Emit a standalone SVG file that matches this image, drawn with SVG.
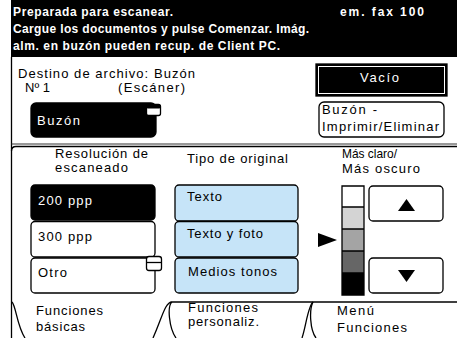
<svg xmlns="http://www.w3.org/2000/svg" width="457" height="338" viewBox="0 0 457 338">
<style>
text{font-family:"Liberation Sans",Arial,sans-serif;font-size:13px;fill:#000}
.h{font-weight:bold;font-size:12px;fill:#fff}
.w{fill:#fff}
.btn{fill:#fff;stroke:#000;stroke-width:1.3}
.blk{fill:#000;stroke:#000;stroke-width:1.3}
.blue{fill:#c6e4f8;stroke:#000;stroke-width:1.3}
.ln{fill:none;stroke:#000;stroke-width:1.3}
</style>
<rect x="0" y="0" width="457" height="338" fill="#fff"/>
<g id="header">
<rect x="11" y="0" width="446" height="57" fill="#000"/>
<text class="h" x="13" y="16" textLength="160" lengthAdjust="spacing">Preparada para escanear.</text>
<text class="h" x="340" y="16" textLength="84" lengthAdjust="spacing">em. fax 100</text>
<text class="h" x="13" y="33" textLength="296" lengthAdjust="spacing">Cargue los documentos y pulse Comenzar. Imág.</text>
<text class="h" x="13" y="50" textLength="267" lengthAdjust="spacing">alm. en buzón pueden recup. de Client PC.</text>
</g>
<g id="frame">
<path class="ln" d="M11.5,57 V338"/>
<path d="M11.5,144 H457" stroke="#333" stroke-width="1" fill="none"/>
<path class="ln" d="M11.5,151 Q11.5,146.5 16,146.5 H457"/>
</g>
<g id="destino">
<text x="18" y="78" textLength="177" lengthAdjust="spacing">Destino de archivo: Buzón</text>
<text x="25" y="92" textLength="25" lengthAdjust="spacing">Nº 1</text>
<text x="118" y="92" textLength="67" lengthAdjust="spacing">(Escáner)</text>
</g>
<g id="buzon-btn">
<rect class="blk" x="31" y="103" width="125" height="34" rx="5"/>
<text class="w" x="37" y="125" textLength="43" lengthAdjust="spacing">Buzón</text>
<rect x="146.5" y="104.5" width="14" height="11" rx="2" fill="#fff" stroke="#000" stroke-width="1.3"/>
<rect x="146.5" y="104.5" width="14" height="4" rx="1.5" fill="#000"/>
</g>
<g id="vacio-btn">
<rect x="316" y="64" width="131" height="32" fill="#000" stroke="#000" stroke-width="1.3"/>
<rect x="318.5" y="66.5" width="126" height="27" fill="none" stroke="#fff" stroke-width="1"/>
<text class="w" x="360" y="82" textLength="39" lengthAdjust="spacing">Vacío</text>
</g>
<g id="imprimir-btn">
<rect class="btn" x="319" y="102" width="125" height="35" rx="5"/>
<text x="322" y="114" textLength="55" lengthAdjust="spacing">Buzón -</text>
<text x="322" y="131" textLength="117" lengthAdjust="spacing">Imprimir/Eliminar</text>
</g>
<g id="resolucion">
<text x="55" y="158" textLength="93" lengthAdjust="spacing">Resolución de</text>
<text x="55" y="172" textLength="73" lengthAdjust="spacing">escaneado</text>
</g>
<g id="res-200">
<rect class="blk" x="31" y="185" width="124" height="35" rx="4"/>
<text class="w" x="38" y="205" textLength="54" lengthAdjust="spacing">200 ppp</text>
</g>
<g id="res-300">
<rect class="btn" x="31" y="221.5" width="124" height="35.5" rx="4"/>
<text x="38" y="241" textLength="54" lengthAdjust="spacing">300 ppp</text>
</g>
<g id="res-otro">
<rect class="btn" x="31" y="258" width="124" height="35" rx="4"/>
<text x="38" y="277" textLength="29" lengthAdjust="spacing">Otro</text>
<rect x="146.5" y="256.5" width="15" height="14" rx="2.5" fill="#fff" stroke="#000" stroke-width="1.3"/>
<path d="M146.5,262.5 H161.5" stroke="#000" stroke-width="1.3"/>
</g>
<g id="tipo">
<text x="187" y="163" textLength="101" lengthAdjust="spacing">Tipo de original</text>
</g>
<g id="tipo-texto">
<rect class="blue" x="175" y="185" width="123" height="36" rx="4"/>
<text x="187" y="201" textLength="35" lengthAdjust="spacing">Texto</text>
</g>
<g id="tipo-foto">
<rect class="blue" x="175" y="221.5" width="123" height="35.5" rx="4"/>
<text x="187" y="238" textLength="76" lengthAdjust="spacing">Texto y foto</text>
</g>
<g id="tipo-medios">
<rect class="blue" x="175" y="258" width="123" height="35" rx="4"/>
<text x="188" y="276" textLength="89" lengthAdjust="spacing">Medios tonos</text>
</g>
<g id="densidad">
<text x="342" y="158" textLength="55" lengthAdjust="spacingAndGlyphs">Más claro/</text>
<text x="342" y="173" textLength="78" lengthAdjust="spacing">Más oscuro</text>
<rect x="342" y="186" width="22" height="21" fill="#fff"/>
<rect x="342" y="207" width="22" height="22" fill="#d4d4d4"/>
<rect x="342" y="229" width="22" height="22" fill="#a4a4a4"/>
<rect x="342" y="251" width="22" height="22" fill="#666"/>
<rect x="342" y="273" width="22" height="22" fill="#000"/>
<path class="ln" d="M342,186 H364 V295 H342 Z M342,207 H364 M342,229 H364 M342,251 H364 M342,273 H364"/>
<path d="M318,233 L337,240 L318,247 Z" fill="#000"/>
</g>
<g id="btn-up">
<rect class="btn" x="369" y="186" width="74" height="35" rx="4"/>
<path d="M398,211 L415,211 L406.5,199 Z" fill="#000"/>
</g>
<g id="btn-down">
<rect class="btn" x="369" y="258" width="74" height="35" rx="4"/>
<path d="M398,270 L415,270 L406.5,282 Z" fill="#000"/>
</g>
<g id="tabs">
<path class="ln" d="M12,302 C16,306 17,326 25,338"/>
<path class="ln" d="M172,302 C165,302 162,318 153,338"/>
<path class="ln" d="M172,302 C167,306 169,328 176,338"/>
<path class="ln" d="M172,302 H457"/>
<path class="ln" d="M313,302 C308,306 306,326 302,338"/>
<path class="ln" d="M313,302 C309,310 310,330 316,338"/>
</g>
<g id="tab-basicas">
<text x="36" y="315" textLength="67" lengthAdjust="spacing">Funciones</text>
<text x="36" y="331" textLength="49" lengthAdjust="spacing">básicas</text>
</g>
<g id="tab-personaliz">
<text x="188" y="312" textLength="70" lengthAdjust="spacing">Funciones</text>
<text x="188" y="326" textLength="71" lengthAdjust="spacing">personaliz.</text>
</g>
<g id="tab-menu">
<text x="337" y="315" textLength="37" lengthAdjust="spacing">Menú</text>
<text x="337" y="332" textLength="70" lengthAdjust="spacing">Funciones</text>
</g>
</svg>
